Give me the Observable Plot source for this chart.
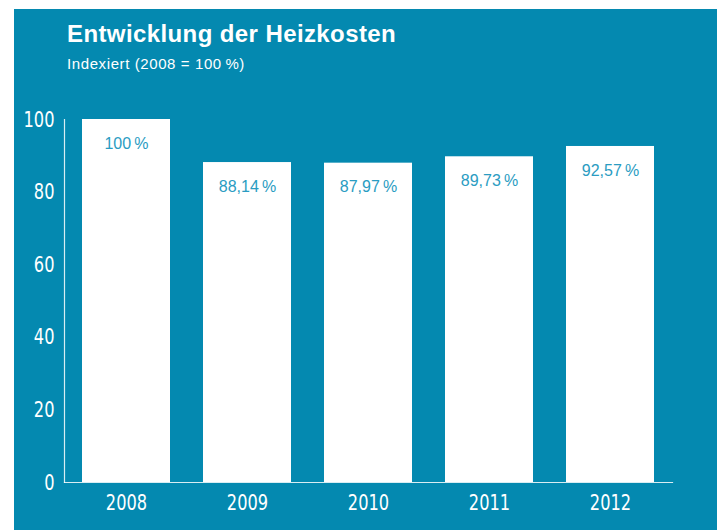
<!DOCTYPE html>
<html>
<head>
<meta charset="utf-8">
<script src="https://cdn.jsdelivr.net/npm/d3@7"></script>
<script src="https://cdn.jsdelivr.net/npm/@observablehq/plot@0.6"></script>
<style>
  html, body { margin: 0; padding: 0; background: #fff; }
  #panel {
    position: absolute; left: 14px; top: 9px; width: 703px; height: 521px;
    background: #0489b0; overflow: hidden;
  }
  #title {
    position: absolute; left: 53px; top: 11px; margin: 0;
    font: bold 24px "Liberation Sans", Arial, sans-serif; color: #fff;
    letter-spacing: 0.4px;
  }
  #subtitle {
    position: absolute; left: 53px; top: 46px; margin: 0;
    font: 15px "Liberation Sans", Arial, sans-serif; color: #fff;
    letter-spacing: 0.6px;
  }
  #chart { position: absolute; left: 0; top: 81px; }
</style>
</head>
<body>
<div id="panel">
  <div id="title">Entwicklung der Heizkosten</div>
  <div id="subtitle">Indexiert (2008 = 100&#8201;%)</div>
  <div id="chart"></div>
</div>
<script>
const years = ["2008", "2009", "2010", "2011", "2012"];
const values = [100, 88.14, 87.97, 89.73, 92.57];
const labels = ["100\u2009%", "88,14\u2009%", "87,97\u2009%", "89,73\u2009%", "92,57\u2009%"];
const yTicks = [0, 20, 40, 60, 80, 100];

const data = years.map((y, i) => ({year: y, value: values[i], label: labels[i]}));
const condensed = '"Liberation Sans Narrow", "DejaVu Sans Condensed", "Roboto Condensed", sans-serif';

const chart = Plot.plot({
  width: 703,
  height: 440,
  marginTop: 29,
  marginBottom: 48,
  marginLeft: 50,
  marginRight: 45,
  style: {background: "transparent", color: "#fff", overflow: "visible"},
  x: {domain: years, paddingInner: 0.276, paddingOuter: 0.138, label: null},
  y: {domain: [0, 100], label: null},
  marks: [
    Plot.barY(data, {x: "year", y: "value", fill: "#fff"}),
    Plot.text(data, {x: "year", y: "value", text: "label", dy: 24, fill: "#2a9cc2",
      fontSize: 16, fontFamily: '"Liberation Sans", Arial, sans-serif'}),
    Plot.frame({anchor: "left", stroke: "#fff", strokeOpacity: 0.85, strokeWidth: 1.2}),
    Plot.frame({anchor: "bottom", stroke: "#fff", strokeOpacity: 0.85, strokeWidth: 1.2}),
    Plot.axisY({ticks: yTicks, tickSize: 0, tickPadding: 10, fontSize: 22,
      fontFamily: condensed, fill: "#fff", label: null}),
    Plot.axisX({tickSize: 0, tickPadding: 12, fontSize: 22,
      fontFamily: condensed, fill: "#fff", label: null})
  ]
});
// narrow the tick labels horizontally to mimic a condensed face
d3.select(chart)
  .selectAll("g[aria-label='x-axis tick label'] text, g[aria-label='y-axis tick label'] text")
  .attr("transform", function () { return (this.getAttribute("transform") || "") + " scale(0.82,1)"; });
document.getElementById("chart").appendChild(chart);
</script>
</body>
</html>
